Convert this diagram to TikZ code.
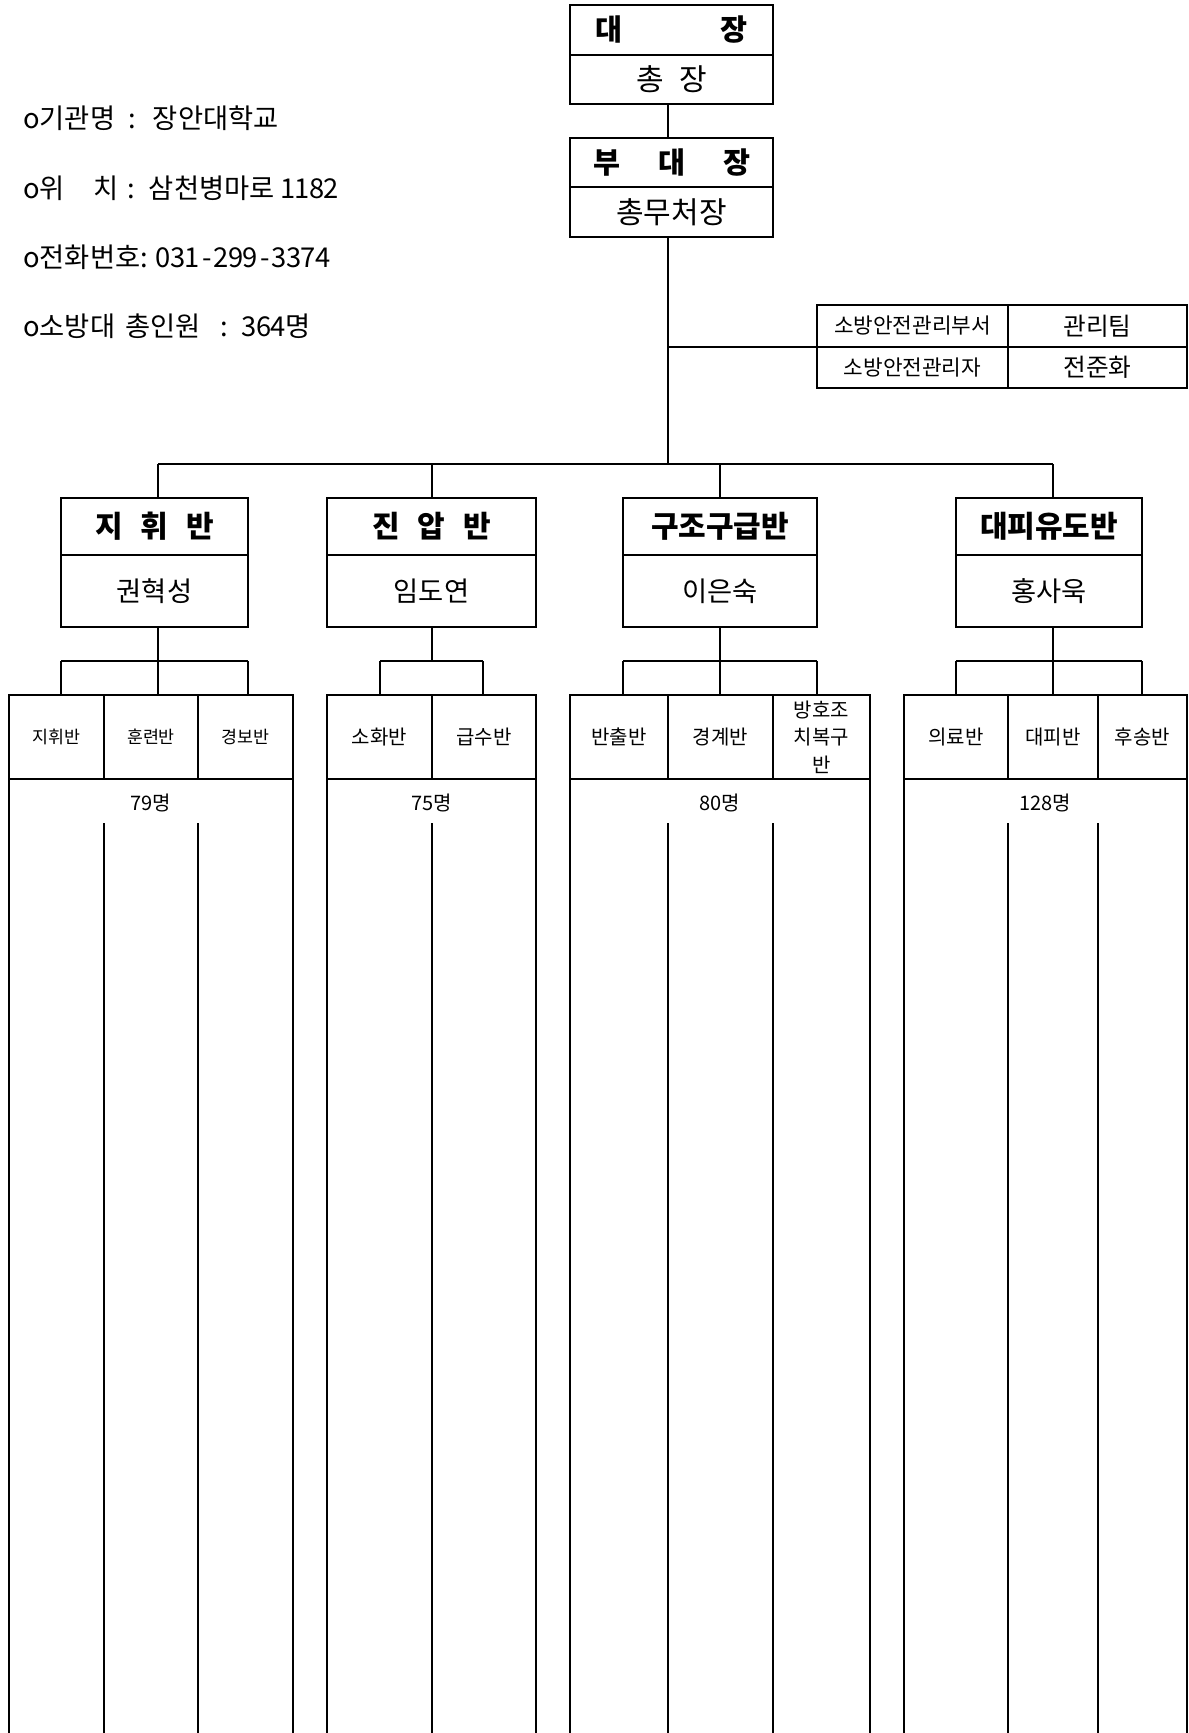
\documentclass[tikz,border=0pt]{standalone}
\usepackage{fontspec}
\setmainfont{Noto Sans CJK KR}
\newlength\upx
\setlength\upx{0.75pt}
\newcommand\fsz[2]{\fontsize{#1}{#2}\selectfont}
\def\mono#1{\monoi#1\relax}
\def\monoi#1{\ifx\relax#1\else\makebox[14.5\upx]{#1}\expandafter\monoi\fi}
\tikzset{
  cell/.style={draw=black, line width=0.8pt, inner sep=0pt, outer sep=0pt, anchor=center},
  ln/.style={draw=black, line width=0.8pt},
  info/.style={anchor=west, inner sep=0pt, font=\fsz{20.5pt}{24pt}},
  headB/.style={font=\bfseries\fsz{22pt}{26pt}},
  headR/.style={font=\fsz{22.5pt}{27pt}},
  sqtitle/.style={font=\bfseries\fsz{22.5pt}{27pt}},
  sqname/.style={font=\fsz{20.5pt}{24pt}},
  sidea/.style={font=\fsz{16pt}{19pt}},
  sideb/.style={font=\fsz{18.5pt}{22pt}},
  subA/.style={font=\fsz{13pt}{16pt}, align=center},
  subB/.style={font=\fsz{15pt}{20.5pt}, align=center},
  count/.style={inner sep=0pt, font=\fsz{15pt}{18pt}},
}
\begin{document}
\begin{tikzpicture}[x=0.75pt, y=-0.75pt]
\useasboundingbox (0,0) rectangle (1188,1733);

% ---- info text ----
\node[info] (i1) at (23,118) {\makebox[105\upx][l]{o기관명}:\hspace{17\upx}장안대학교};
\node[info] (i2) at (23,188) {\makebox[70\upx][l]{o위}\makebox[34\upx][l]{치}:\hspace{14\upx}삼천병마로 \mono{1182}};
\node[info] (i3) at (23,257) {o전화번호: \mono{031-299-3374}};
\node[info] (i4) at (23,326) {o소방대\hspace{10\upx}총인원\hspace{20\upx}:\hspace{14\upx}\mono{364}명};

% ---- top boxes ----
\node[cell, headB, minimum width=203\upx, minimum height=50\upx] (chief) at (671.5,30) {\makebox[152\upx]{대\hfill 장}};
\node[cell, headR, minimum width=203\upx, minimum height=49\upx] (chiefname) at (671.5,79.5) {총\hspace{15\upx}장};
\node[cell, headB, minimum width=203\upx, minimum height=49\upx] (vice) at (671.5,162.5) {\makebox[157\upx]{부\hfill 대\hfill 장}};
\node[cell, headR, minimum width=203\upx, minimum height=50\upx] (vicename) at (671.5,212) {총무처장};

\coordinate (spine) at (668,0);
\draw[ln] (chiefname.south -| spine) -- (vice.north -| spine);

% ---- side table ----
\node[cell, sidea, minimum width=191\upx, minimum height=42\upx] (sa1) at (912.5,326) {소방안전관리부서};
\node[cell, sideb, minimum width=179\upx, minimum height=42\upx] (sb1) at (1097.5,326) {관리팀};
\node[cell, sidea, minimum width=191\upx, minimum height=41\upx] (sa2) at (912.5,367.5) {소방안전관리자};
\node[cell, sideb, minimum width=179\upx, minimum height=41\upx] (sb2) at (1097.5,367.5) {전준화};
\draw[ln] (sa1.south west -| spine) -- (sa1.south west);

% ---- main bus ----
\coordinate (m1) at (158,464);
\coordinate (m2) at (432,464);
\coordinate (m3) at (720,464);
\coordinate (m4) at (1053,464);
\draw[ln] (vicename.south -| spine) -- (spine |- m1);
\draw[ln] (m1) -- (m4);

% ---- squad boxes ----
\node[cell, sqtitle, minimum width=187\upx, minimum height=57\upx] (sq1t) at (154.5,526.5) {지\hspace{0.6em}휘\hspace{0.6em}반};
\node[cell, sqname, minimum width=187\upx, minimum height=72\upx] (sq1n) at (154.5,591) {권혁성};
\node[cell, sqtitle, minimum width=209\upx, minimum height=57\upx] (sq2t) at (431.5,526.5) {진\hspace{0.6em}압\hspace{0.6em}반};
\node[cell, sqname, minimum width=209\upx, minimum height=72\upx] (sq2n) at (431.5,591) {임도연};
\node[cell, sqtitle, minimum width=194\upx, minimum height=57\upx] (sq3t) at (720,526.5) {구조구급반};
\node[cell, sqname, minimum width=194\upx, minimum height=72\upx] (sq3n) at (720,591) {이은숙};
\node[cell, sqtitle, minimum width=186\upx, minimum height=57\upx] (sq4t) at (1049,526.5) {대피유도반};
\node[cell, sqname, minimum width=186\upx, minimum height=72\upx] (sq4n) at (1049,591) {홍사욱};

\draw[ln] (m1) -- (m1 |- sq1t.north);
\draw[ln] (m2) -- (m2 |- sq2t.north);
\draw[ln] (m3) -- (m3 |- sq3t.north);
\draw[ln] (m4) -- (m4 |- sq4t.north);

% ---- sub tables: header cells ----
\node[cell, subA, minimum width=95\upx, minimum height=84\upx] (t1a) at (56.5,737) {지휘반};
\node[cell, subA, minimum width=94\upx, minimum height=84\upx] (t1b) at (151,737) {훈련반};
\node[cell, subA, minimum width=95\upx, minimum height=84\upx] (t1c) at (245.5,737) {경보반};

\node[cell, subB, minimum width=105\upx, minimum height=84\upx] (t2a) at (379.5,737) {소화반};
\node[cell, subB, minimum width=104\upx, minimum height=84\upx] (t2b) at (484,737) {급수반};

\node[cell, subB, minimum width=98\upx, minimum height=84\upx] (t3a) at (619,737) {반출반};
\node[cell, subB, minimum width=105\upx, minimum height=84\upx] (t3b) at (720.5,737) {경계반};
\node[cell, subB, minimum width=97\upx, minimum height=84\upx] (t3c) at (821.5,737) {방호조\\치복구\\반};

\node[cell, subB, minimum width=104\upx, minimum height=84\upx] (t4a) at (956,737) {의료반};
\node[cell, subB, minimum width=90\upx, minimum height=84\upx] (t4b) at (1053,737) {대피반};
\node[cell, subB, minimum width=89\upx, minimum height=84\upx] (t4c) at (1142.5,737) {후송반};

% ---- counts ----
\node[count] (n1) at (151,803) {79명};
\node[count] (n2) at (431.5,803) {75명};
\node[count] (n3) at (720,803) {80명};
\node[count] (n4) at (1045.5,803) {128명};

% ---- sub buses ----
\coordinate (b1a) at (61,661);  \coordinate (b1b) at (158,661); \coordinate (b1c) at (248,661);
\coordinate (b2a) at (380,661); \coordinate (b2b) at (432,661); \coordinate (b2c) at (483,661);
\coordinate (b3a) at (623,661); \coordinate (b3b) at (720,661); \coordinate (b3c) at (817,661);
\coordinate (b4a) at (956,661); \coordinate (b4b) at (1053,661); \coordinate (b4c) at (1142,661);

\draw[ln] (b1a) -- (b1c);
\draw[ln] (sq1n.south -| b1b) -- (b1b |- t1a.north);
\draw[ln] (b1a) -- (b1a |- t1a.north);
\draw[ln] (b1c) -- (b1c |- t1a.north);

\draw[ln] (b2a) -- (b2c);
\draw[ln] (sq2n.south -| b2b) -- (b2b);
\draw[ln] (b2a) -- (b2a |- t2a.north);
\draw[ln] (b2c) -- (b2c |- t2a.north);

\draw[ln] (b3a) -- (b3c);
\draw[ln] (sq3n.south -| b3b) -- (b3b |- t3a.north);
\draw[ln] (b3a) -- (b3a |- t3a.north);
\draw[ln] (b3c) -- (b3c |- t3a.north);

\draw[ln] (b4a) -- (b4c);
\draw[ln] (sq4n.south -| b4b) -- (b4b |- t4a.north);
\draw[ln] (b4a) -- (b4a |- t4a.north);
\draw[ln] (b4c) -- (b4c |- t4a.north);

% ---- long columns ----
\coordinate (bot) at (0,1733);
\coordinate (low) at (0,823);

\draw[ln] (t1a.south west) -- (t1a.south west |- bot);
\draw[ln] (t1c.south east) -- (t1c.south east |- bot);
\draw[ln] (t1a.south east |- low) -- (t1a.south east |- bot);
\draw[ln] (t1b.south east |- low) -- (t1b.south east |- bot);

\draw[ln] (t2a.south west) -- (t2a.south west |- bot);
\draw[ln] (t2b.south east) -- (t2b.south east |- bot);
\draw[ln] (t2a.south east |- low) -- (t2a.south east |- bot);

\draw[ln] (t3a.south west) -- (t3a.south west |- bot);
\draw[ln] (t3c.south east) -- (t3c.south east |- bot);
\draw[ln] (t3a.south east |- low) -- (t3a.south east |- bot);
\draw[ln] (t3b.south east |- low) -- (t3b.south east |- bot);

\draw[ln] (t4a.south west) -- (t4a.south west |- bot);
\draw[ln] (t4c.south east) -- (t4c.south east |- bot);
\draw[ln] (t4a.south east |- low) -- (t4a.south east |- bot);
\draw[ln] (t4b.south east |- low) -- (t4b.south east |- bot);
\end{tikzpicture}
\end{document}
